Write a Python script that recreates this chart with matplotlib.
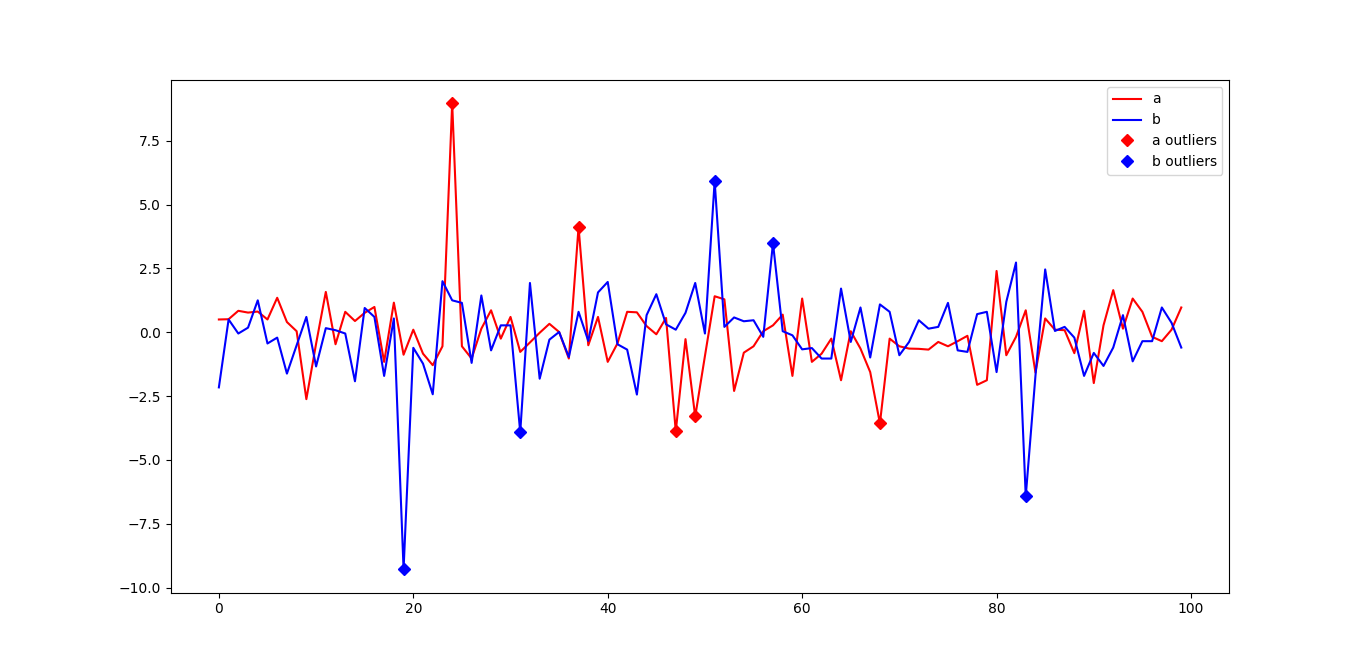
import matplotlib
matplotlib.use("Agg")
import matplotlib.pyplot as plt
import numpy as np

a = [0.50, 0.51, 0.84, 0.77, 0.81, 0.50, 1.35, 0.40, 0.04, -2.62,
     -0.45, 1.58, -0.47, 0.80, 0.44, 0.76, 0.99, -1.16, 1.16, -0.88,
     0.10, -0.84, -1.29, -0.55, 8.97, -0.55, -1.03, 0.14, 0.86, -0.25,
     0.60, -0.77, -0.40, -0.02, 0.33, 0.01, -1.03, 4.12, -0.51, 0.60,
     -1.16, -0.44, 0.80, 0.78, 0.24, -0.08, 0.56, -3.88, -0.27, -3.30,
     -0.93, 1.41, 1.29, -2.30, -0.80, -0.55, 0.04, 0.27, 0.69, -1.71,
     1.32, -1.16, -0.84, -0.25, -1.88, 0.04, -0.64, -1.56, -3.57, -0.25,
     -0.55, -0.64, -0.65, -0.68, -0.38, -0.55, -0.35, -0.14, -2.06, -1.88,
     2.40, -0.90, -0.18, 0.86, -1.58, 0.54, 0.10, 0.08, -0.82, 0.84,
     -1.99, 0.27, 1.65, 0.14, 1.32, 0.80, -0.18, -0.35, 0.10, 0.97]

b = [-2.16, 0.50, -0.05, 0.18, 1.25, -0.44, -0.21, -1.62, -0.51, 0.60,
     -1.34, 0.16, 0.08, -0.05, -1.92, 0.95, 0.60, -1.71, 0.54, -9.29,
     -0.61, -1.23, -2.43, 2.00, 1.25, 1.15, -1.20, 1.44, -0.71, 0.27,
     0.27, -3.92, 1.93, -1.82, -0.29, 0.01, -0.97, 0.80, -0.34, 1.56,
     1.97, -0.47, -0.68, -2.44, 0.67, 1.49, 0.31, 0.10, 0.76, 1.93,
     -0.05, 5.92, 0.21, 0.58, 0.43, 0.47, -0.18, 3.49, 0.04, -0.12,
     -0.67, -0.62, -1.03, -1.03, 1.71, -0.38, 0.97, -0.99, 1.09, 0.80,
     -0.90, -0.38, 0.47, 0.14, 0.21, 1.15, -0.71, -0.77, 0.71, 0.80,
     -1.56, 1.19, 2.73, -6.43, -1.70, 2.46, 0.05, 0.21, -0.21, -1.71,
     -0.81, -1.32, -0.60, 0.67, -1.14, -0.35, -0.35, 0.97, 0.37, -0.60]

a_outlier_idx = [24, 37, 47, 49, 68]
b_outlier_idx = [19, 31, 51, 57, 83]

a = np.array(a)
b = np.array(b)
x = np.arange(len(a))

fig, ax = plt.subplots(figsize=(13.66, 6.66), dpi=100)
ax.plot(x, a, color='red', label='a')
ax.plot(x, b, color='blue', label='b')
ax.plot(a_outlier_idx, a[a_outlier_idx], 'D', color='red', linestyle='none', label='a outliers')
ax.plot(b_outlier_idx, b[b_outlier_idx], 'D', color='blue', linestyle='none', label='b outliers')
ax.legend(loc='upper right')
fig.savefig('out.png', dpi=100)
